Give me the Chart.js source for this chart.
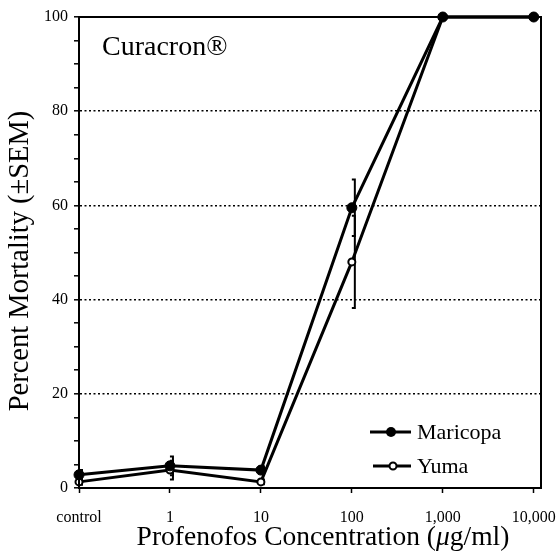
<!DOCTYPE html>
<html><head><meta charset="utf-8">
<script src="https://cdn.jsdelivr.net/npm/chart.js@4/dist/chart.umd.min.js"></script>
<style>html,body{margin:0;padding:0;background:#fff}#wrap{width:558px;height:559px}</style>
</head><body><div id="wrap"><canvas id="c"></canvas></div>
<script>
const categories = ['control','1','10','100','1,000','10,000'];
const maricopa = [2.8, 4.7, 3.8, 59.5, 100, 100];
const maricopaSEM = [1.0, 2.0, 0.8, 6.0, 0, 0];
const yuma = [1.3, 3.8, 1.3, 48.0, 100, 100];
const yumaSEM = [0.6, 2.0, 0.5, 9.8, 0, 0];
const yGridValues = [20, 40, 60, 80];
const seriesNames = ['Maricopa', 'Yuma'];
const chartTitle = 'Curacron®';
const xTitleParts = ['Profenofos Concentration (', '\u03bc', 'g/ml)'];
const yTitle = 'Percent Mortality (\u00b1SEM)';

const SERIF = "'Liberation Serif', 'Times New Roman', serif";
Chart.defaults.font.family = SERIF;
Chart.defaults.color = '#000';

const toPts = arr => arr.map((v, i) => ({x: i, y: v}));

const errorBars = {
  id: 'errorBars',
  beforeDatasetsDraw(chart) {
    const {ctx, scales: {x, y}} = chart;
    ctx.save();
    ctx.strokeStyle = '#000';
    ctx.lineWidth = 2;
    chart.data.datasets.forEach(ds => {
      ds.sem.forEach((e, i) => {
        if (!e) return;
        const px = x.getPixelForValue(i) + 3;
        const v = ds.data[i].y;
        const y1 = y.getPixelForValue(v + e), y2 = y.getPixelForValue(v - e);
        ctx.beginPath();
        ctx.moveTo(px, y1); ctx.lineTo(px, y2);
        ctx.moveTo(px - 3, y1); ctx.lineTo(px + 1, y1);
        ctx.moveTo(px - 3, y2); ctx.lineTo(px + 1, y2);
        ctx.stroke();
      });
    });
    ctx.restore();
  }
};

const decor = {
  id: 'decor',
  afterDraw(chart) {
    const {ctx, chartArea: a} = chart;
    ctx.save();
    ctx.strokeStyle = '#000';
    ctx.lineWidth = 2;
    ctx.strokeRect(a.left, a.top, a.right - a.left, a.bottom - a.top);
    ctx.fillStyle = '#000';
    // x axis title with italic mu
    ctx.textBaseline = 'middle';
    ctx.textAlign = 'left';
    const fN = '27.5px ' + SERIF, fI = 'italic 27.5px ' + SERIF;
    const fonts = [fN, fI, fN];
    let total = 0;
    const widths = xTitleParts.map((t, k) => { ctx.font = fonts[k]; const w = ctx.measureText(t).width; total += w; return w; });
    let cx = 323 - total / 2;
    xTitleParts.forEach((t, k) => { ctx.font = fonts[k]; ctx.fillText(t, cx, 538); cx += widths[k]; });
    // y axis title
    ctx.textAlign = 'center';
    ctx.save();
    ctx.translate(21, 261);
    ctx.rotate(-Math.PI / 2);
    ctx.font = '28.5px ' + SERIF;
    ctx.fillText(yTitle, 0, 0);
    ctx.restore();
    // title
    ctx.font = '28px ' + SERIF;
    ctx.textBaseline = 'alphabetic';
    ctx.textAlign = 'left';
    ctx.fillText(chartTitle, a.left + 23, a.top + 38);
    // legend
    const lx = a.left + 291, ly = [a.top + 415, a.top + 449];
    ctx.font = '22px ' + SERIF;
    ctx.textBaseline = 'middle';
    ctx.lineWidth = 3;
    seriesNames.forEach((name, k) => {
      ctx.beginPath();
      ctx.moveTo(lx + (k ? 3 : 0), ly[k]); ctx.lineTo(lx + 41, ly[k]);
      ctx.stroke();
      ctx.beginPath();
      if (k === 0) {
        ctx.arc(lx + 21, ly[k], 5, 0, Math.PI * 2);
        ctx.fillStyle = '#000'; ctx.fill();
      } else {
        ctx.arc(lx + 23, ly[k], 3.5, 0, Math.PI * 2);
        ctx.fillStyle = '#fff'; ctx.fill();
        ctx.lineWidth = 2; ctx.stroke(); ctx.lineWidth = 3;
      }
      ctx.fillStyle = '#000';
      ctx.fillText(name, lx + 47, ly[k] + 1);
    });
    ctx.restore();
  }
};

new Chart(document.getElementById('c'), {
  type: 'line',
  data: {
    datasets: [
      {label: seriesNames[0], data: toPts(maricopa), sem: maricopaSEM,
       borderColor: '#000', borderWidth: 3, pointRadius: 5, pointBackgroundColor: '#000',
       pointBorderColor: '#000', pointBorderWidth: 1, clip: false, tension: 0},
      {label: seriesNames[1], data: toPts(yuma), sem: yumaSEM,
       borderColor: '#000', borderWidth: 3, pointRadius: 3.5, pointBackgroundColor: '#fff',
       pointBorderColor: '#000', pointBorderWidth: 2, clip: false, tension: 0}
    ]
  },
  options: {
    responsive: true,
    maintainAspectRatio: false,
    animation: false,
    layout: {padding: {top: 17, right: 17, left: 0, bottom: 0}},
    plugins: {legend: {display: false}, tooltip: {enabled: false}},
    scales: {
      x: {
        type: 'linear', min: 0, max: 5.08,
        afterBuildTicks: s => { s.ticks = categories.map((_, i) => ({value: i})); },
        afterFit: s => { s.height = 71; s.paddingLeft = 0; s.paddingRight = 0; },
        ticks: {callback: v => categories[v], font: {size: 16}, padding: 15, maxRotation: 0, autoSkip: false},
        grid: {drawOnChartArea: false, tickColor: '#000', tickLength: 5, tickWidth: 1.5},
        border: {display: true, color: '#000', width: 2}
      },
      y: {
        min: 0, max: 100,
        afterFit: s => { s.width = 79; s.paddingTop = 0; s.paddingBottom = 0; },
        ticks: {stepSize: 5, autoSkip: false, font: {size: 16}, padding: 6,
                callback: v => (v % 20 === 0 ? v : '')},
        grid: {
          color: c => (yGridValues.includes(c.tick.value) ? '#000' : 'rgba(0,0,0,0)'),
          lineWidth: 1.6, tickColor: '#000', tickLength: 5, tickWidth: 1.5
        },
        border: {display: true, color: '#000', width: 2, dash: [2, 2.5]}
      }
    }
  },
  plugins: [errorBars, decor]
});
</script>
</body></html>
